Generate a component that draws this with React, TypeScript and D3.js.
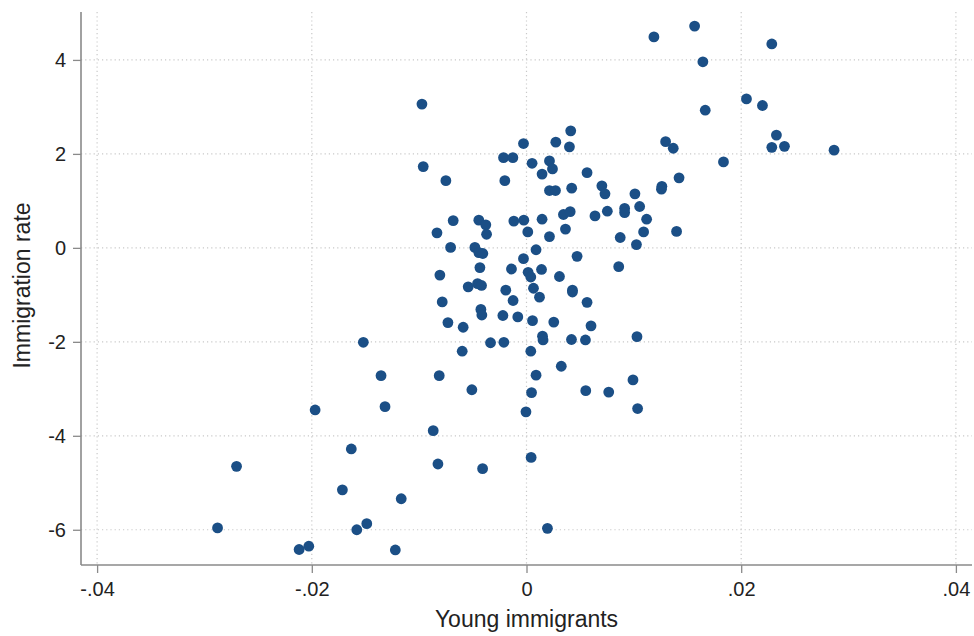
import React, { useRef, useEffect } from "react";
import * as d3 from "d3";

// young immigrants (x) and immigration rate (y), one entry per dot
const YOUNG_IMMIGRANTS = [
  -0.01969, -0.02701, -0.02878, -0.02118, -0.02028, -0.00974, -0.00028, -0.00214, -0.00127, -0.00962,
  0.00052, 0.00145, -0.00751, -0.00202, -0.00683, -0.00444, -0.00379, -0.00372, -0.00834, -0.00118,
  -0.00025, 0.00012, -0.00707, -0.00481, 0.00145, 0.00089, 0.00412, 0.00273, 0.004, 0.01296,
  0.00214, 0.00242, 0.00564, 0.00702, 0.00731, 0.00214, 0.0027, 0.00421, 0.0101, 0.01261,
  0.01257, 0.00344, 0.00407, 0.00638, 0.00753, 0.00914, 0.00914, 0.01054, 0.01119, 0.00363,
  0.01091, 0.00873, 0.00214, 0.01024, 0.01187, 0.01566, 0.01643, 0.02285, 0.02049, 0.02198,
  0.01665, 0.02328, 0.02285, 0.02403, 0.02865, 0.01367, 0.01835, 0.01421, -0.00444, -0.00807,
  -0.00434, -0.00543, -0.00456, -0.00419, -0.00785, -0.00425, -0.00416, -0.00732, -0.0059, -0.0152,
  -0.00599, -0.01355, -0.00813, -0.00509, -0.01318, -0.00407, -0.00028, 0.00471, -0.0014, 0.00015,
  0.0004, 0.0014, 0.00307, -0.00193, 0.00065, 0.00121, 0.00428, 0.00428, -0.00125, 0.00564,
  -0.0022, -0.00081, 0.00056, 0.00254, 0.00149, 0.00154, -0.00335, -0.00211, 0.00419, 0.0004,
  0.00324, 0.00089, 0.00047, -0.00005, 0.00859, 0.00601, 0.00549, 0.01029, 0.00992, 0.00552,
  0.00766, 0.01035, -0.00869, -0.01632, 0.00043, -0.00825, -0.00409, -0.01715, -0.01167, -0.01488,
  -0.01581, 0.00195, -0.01222, 0.01398,
];

const IMMIGRATION_RATE = [
  -3.45, -4.65, -5.96, -6.42, -6.35, 3.06, 2.22, 1.92, 1.92, 1.73,
  1.8, 1.57, 1.43, 1.43, 0.58, 0.59, 0.49, 0.29, 0.32, 0.57,
  0.59, 0.34, 0.01, 0.01, 0.61, -0.04, 2.49, 2.25, 2.15, 2.26,
  1.85, 1.68, 1.6, 1.32, 1.15, 1.22, 1.22, 1.27, 1.15, 1.31,
  1.25, 0.71, 0.77, 0.68, 0.78, 0.84, 0.75, 0.88, 0.61, 0.4,
  0.34, 0.22, 0.24, 0.07, 4.49, 4.72, 3.96, 4.34, 3.17, 3.03,
  2.93, 2.4, 2.14, 2.16, 2.08, 2.12, 1.83, 1.49, -0.1, -0.58,
  -0.42, -0.83, -0.76, -0.8, -1.15, -1.31, -1.43, -1.59, -1.69, -2.01,
  -2.2, -2.72, -2.72, -3.02, -3.38, -0.12, -0.23, -0.18, -0.45, -0.52,
  -0.62, -0.46, -0.61, -0.9, -0.86, -1.05, -0.9, -0.94, -1.12, -1.16,
  -1.44, -1.47, -1.55, -1.58, -1.88, -1.96, -2.02, -2.01, -1.95, -2.2,
  -2.52, -2.71, -3.08, -3.49, -0.4, -1.66, -1.96, -1.89, -2.81, -3.04,
  -3.07, -3.42, -3.89, -4.28, -4.46, -4.6, -4.7, -5.15, -5.34, -5.87,
  -6.0, -5.97, -6.43, 0.35,
];

const X_TICKS = [-0.04, -0.02, 0, 0.02, 0.04];
const X_TICK_LABELS = ["-.04", "-.02", "0", ".02", ".04"];
const Y_TICKS = [-6, -4, -2, 0, 2, 4];
const Y_TICK_LABELS = ["-6", "-4", "-2", "0", "2", "4"];

const X_TITLE = "Young immigrants";
const Y_TITLE = "Immigration rate";

const WIDTH = 974, HEIGHT = 636;
const FONT = "'Liberation Sans', Arial, Helvetica, sans-serif";

export default function App() {
  const svgRef = useRef<SVGSVGElement>(null);

  useEffect(() => {
    const left = 81, right = 972, top = 12, bottom = 565;

    const x = d3.scaleLinear().domain([-0.0415, 0.0415]).range([left, right]);
    const y = d3.scaleLinear().domain([-6.75, 5.02]).range([bottom, top]);

    const svg = d3.select(svgRef.current);
    svg.selectAll("*").remove();

    // grid, dotted
    const grid = svg.append("g")
      .attr("stroke", "#c9c9c9")
      .attr("stroke-width", 1.2)
      .attr("stroke-dasharray", "1.2,3");
    grid.selectAll("line.gx")
      .data(X_TICKS)
      .join("line")
      .attr("class", "gx")
      .attr("x1", d => x(d)).attr("x2", d => x(d))
      .attr("y1", top).attr("y2", bottom);
    grid.selectAll("line.gy")
      .data(Y_TICKS)
      .join("line")
      .attr("class", "gy")
      .attr("x1", left).attr("x2", right)
      .attr("y1", d => y(d)).attr("y2", d => y(d));

    // dots
    const points = YOUNG_IMMIGRANTS.map((v, i) => ({ x: v, y: IMMIGRATION_RATE[i] }));
    svg.append("g")
      .selectAll("circle")
      .data(points)
      .join("circle")
      .attr("cx", d => x(d.x))
      .attr("cy", d => y(d.y))
      .attr("r", 5.4)
      .attr("fill", "#1b4f86");

    // y axis
    const yAxis = svg.append("g")
      .attr("transform", `translate(${left},0)`)
      .call(d3.axisLeft(y).tickValues(Y_TICKS).tickSize(8).tickPadding(7)
        .tickFormat((d, i) => Y_TICK_LABELS[i]));
    yAxis.select(".domain").remove();
    yAxis.selectAll(".tick line").attr("stroke", "#8a8a8a").attr("stroke-width", 1.3);
    yAxis.selectAll("text")
      .style("font-size", "20px")
      .style("font-family", FONT)
      .style("fill", "#222");

    // x axis
    const xAxis = svg.append("g")
      .attr("transform", `translate(0,${bottom})`)
      .call(d3.axisBottom(x).tickValues(X_TICKS).tickSize(8).tickPadding(9)
        .tickFormat((d, i) => X_TICK_LABELS[i]));
    xAxis.select(".domain").remove();
    xAxis.selectAll(".tick line").attr("stroke", "#8a8a8a").attr("stroke-width", 1.3);
    xAxis.selectAll("text")
      .style("font-size", "20px")
      .style("font-family", FONT)
      .style("fill", "#222");

    // axis lines
    svg.append("line")
      .attr("x1", left).attr("x2", left)
      .attr("y1", top).attr("y2", bottom)
      .attr("stroke", "#8a8a8a").attr("stroke-width", 1.6);
    svg.append("line")
      .attr("x1", left).attr("x2", right)
      .attr("y1", bottom).attr("y2", bottom)
      .attr("stroke", "#8a8a8a").attr("stroke-width", 1.6);

    // titles
    svg.append("text")
      .attr("x", (left + right) / 2)
      .attr("y", 627)
      .attr("text-anchor", "middle")
      .style("font-size", "23px")
      .style("font-family", FONT)
      .style("fill", "#222")
      .text(X_TITLE);
    svg.append("text")
      .attr("transform", `translate(30,${(top + bottom) / 2 - 3}) rotate(-90)`)
      .attr("text-anchor", "middle")
      .style("font-size", "23px")
      .style("font-family", FONT)
      .style("fill", "#222")
      .text(Y_TITLE);
  }, []);

  return (
    <svg
      ref={svgRef}
      width={WIDTH}
      height={HEIGHT}
      style={{ position: "fixed", left: 0, top: 0, background: "#fff", display: "block" }}
    />
  );
}
